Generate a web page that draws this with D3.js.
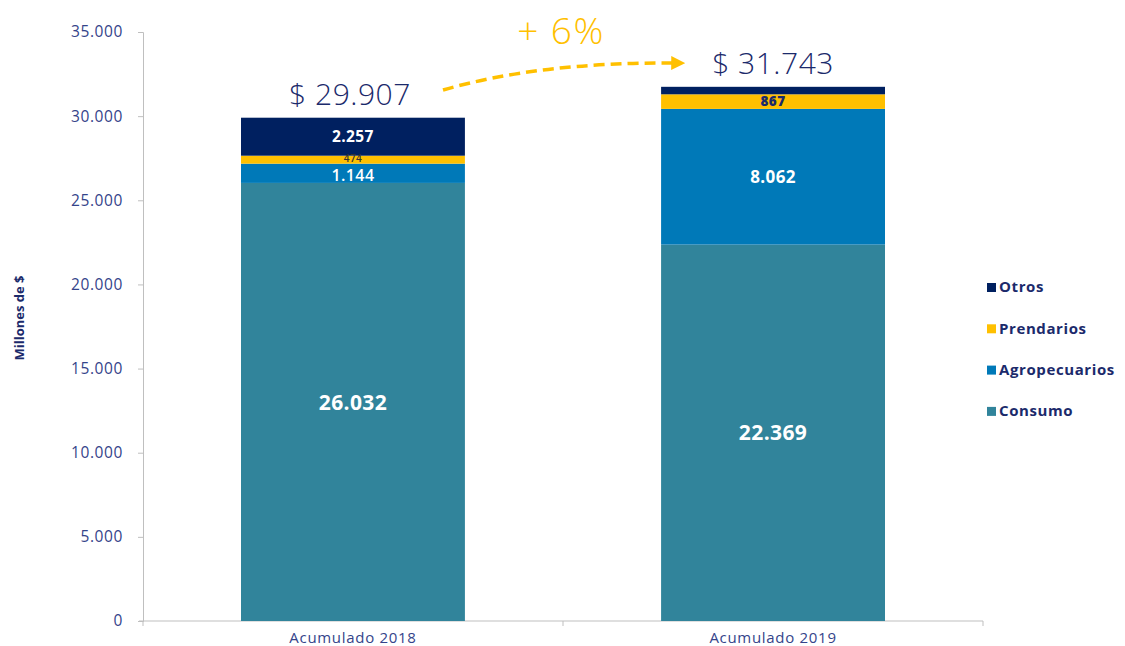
<!DOCTYPE html>
<html><head><meta charset="utf-8">
<script src="https://cdn.jsdelivr.net/npm/d3@7"></script>
<style>body{margin:0;background:#fff}svg{display:block}text{font-family:"Open Sans",sans-serif}</style>
</head><body><svg id="c" width="1125" height="646"></svg>
<script>
const categories = ["Acumulado 2018", "Acumulado 2019"];
const seriesNames = ["Consumo", "Agropecuarios", "Prendarios", "Otros"];
const consumo = [26032, 22369];
const agropecuarios = [1144, 8062];
const prendarios = [474, 867];
const otros = [2257, 445];
const totals = [29907, 31743];
const yTicks = [0, 5000, 10000, 15000, 20000, 25000, 30000, 35000];
const growthLabel = "+ 6%";
const colors = {Consumo:"#31849B", Agropecuarios:"#0079B8", Prendarios:"#FFC000", Otros:"#002060"};

const svg = d3.select("#c");
const navy = "#1B2A6B";
const fmt = v => d3.format(",")(v).replace(/,/g, ".");

const x = d3.scaleBand().domain(categories).range([143, 983]).paddingInner(0.467).paddingOuter(0.2333);
const y = d3.scaleLinear().domain([0, 35000]).range([621, 32]);

const rows = categories.map((c, i) => ({cat: c, Consumo: consumo[i], Agropecuarios: agropecuarios[i], Prendarios: prendarios[i], Otros: otros[i]}));
const stack = d3.stack().keys(seriesNames)(rows);

// y axis
const yAxis = svg.append("g").attr("transform", "translate(143,0)")
  .call(d3.axisLeft(y).tickValues(yTicks).tickSize(5).tickFormat(d => fmt(d)).tickPadding(15));
yAxis.select(".domain").attr("stroke", "#BFBFBF");
yAxis.selectAll(".tick line").attr("stroke", "#BFBFBF");
yAxis.selectAll("text").attr("fill", "#34448A").attr("font-size", 15.5).attr("letter-spacing", 0.6).style("font-family", "Open Sans");

// x axis
const xg = svg.append("g");
xg.append("line").attr("x1", 139).attr("x2", 983).attr("y1", y(0)).attr("y2", y(0)).attr("stroke", "#BFBFBF");
const bounds = [x.range()[0], (x(categories[0]) + x.bandwidth() + x(categories[1])) / 2, x.range()[1]];
bounds.forEach(b => xg.append("line").attr("x1", b).attr("x2", b).attr("y1", y(0)).attr("y2", y(0) + 5).attr("stroke", "#BFBFBF"));
categories.forEach(c => xg.append("text").attr("x", x(c) + x.bandwidth() / 2).attr("y", 643)
  .attr("text-anchor", "middle").attr("fill", "#34448A").attr("font-size", 15).attr("letter-spacing", 0.7).text(c));

// bars
stack.forEach(s => {
  svg.append("g").selectAll("rect").data(s).join("rect")
    .attr("x", d => x(d.data.cat)).attr("width", x.bandwidth())
    .attr("y", d => y(d[1])).attr("height", d => y(d[0]) - y(d[1]))
    .attr("fill", colors[s.key]);
});

// segment labels
const labelSpec = [
  {s: 0, i: 0, size: 21, color: "#fff", weight: 700},
  {s: 0, i: 1, size: 21, color: "#fff", weight: 700},
  {s: 1, i: 0, size: 16, color: "#fff", weight: 600, dy: 2},
  {s: 1, i: 1, size: 17, color: "#fff", weight: 700},
  {s: 2, i: 0, size: 10, color: "#333", weight: 600, dy: -1},
  {s: 2, i: 1, size: 13.5, color: navy, weight: 800},
  {s: 3, i: 0, size: 15.5, color: "#fff", weight: 700}
];
labelSpec.forEach(l => {
  const d = stack[l.s][l.i];
  svg.append("text").attr("x", x(categories[l.i]) + x.bandwidth() / 2)
    .attr("y", (y(d[0]) + y(d[1])) / 2 + (l.dy || 0)).attr("dy", "0.36em")
    .attr("text-anchor", "middle").attr("fill", l.color).attr("font-size", l.size)
    .attr("font-weight", l.weight).attr("letter-spacing", 0.4).text(fmt(d[1] - d[0]));
});

// totals
totals.forEach((t, i) => {
  svg.append("text").attr("x", x(categories[i]) + x.bandwidth() / 2 - (i === 0 ? 3 : 0))
    .attr("y", y(t) - 13).attr("text-anchor", "middle").attr("fill", navy)
    .attr("font-size", 30).attr("font-weight", 300).attr("letter-spacing", 0.5).text("$ " + fmt(t));
});

// growth arrow
svg.append("defs").append("marker").attr("id", "ah").attr("viewBox", "0 0 10 10")
  .attr("refX", 2).attr("refY", 5).attr("markerWidth", 4).attr("markerHeight", 4).attr("orient", "auto")
  .append("path").attr("d", "M0,0 L10,5 L0,10 Z").attr("fill", "#FFC000");
svg.append("path").attr("d", "M443,90 Q540,62 674,63")
  .attr("fill", "none").attr("stroke", "#FFC000").attr("stroke-width", 3.5)
  .attr("stroke-dasharray", "11,6").attr("marker-end", "url(#ah)");
svg.append("text").attr("x", 561).attr("y", 44).attr("text-anchor", "middle")
  .attr("fill", "#FFC000").attr("font-size", 37).attr("font-weight", 300).attr("letter-spacing", 1.5).text(growthLabel);

// y title
svg.append("text").attr("transform", "translate(24,318) rotate(-90)").attr("text-anchor", "middle")
  .attr("fill", navy).attr("font-size", 13).attr("font-weight", 700).text("Millones de $");

// legend
const legendOrder = ["Otros", "Prendarios", "Agropecuarios", "Consumo"];
legendOrder.forEach((k, i) => {
  const ly = 287 + i * 41.3;
  svg.append("rect").attr("x", 987).attr("y", ly - 4).attr("width", 9).attr("height", 9).attr("fill", colors[k]);
  svg.append("text").attr("x", 999).attr("y", ly).attr("dy", "0.36em").attr("fill", navy)
    .attr("font-size", 15).attr("font-weight", 700).attr("letter-spacing", 0.6).text(k);
});
</script></body></html>
